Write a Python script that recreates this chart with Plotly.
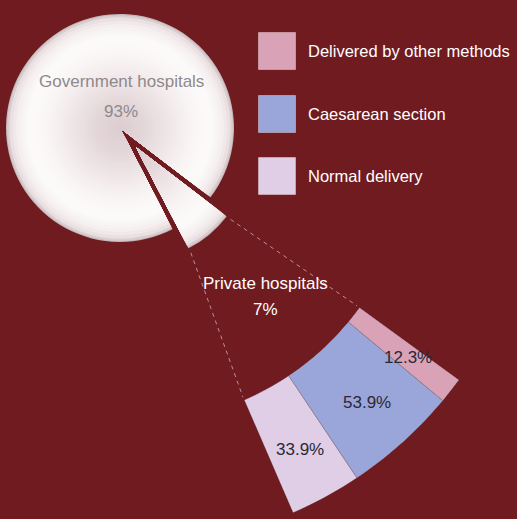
import math
import plotly.graph_objects as go

# ---------------- data ----------------
pie_labels = ["Government hospitals", "Private hospitals"]
pie_values = [93, 7]

private_categories = ["Normal delivery", "Caesarean section", "Delivered by other methods"]
private_values = [33.9, 53.9, 12.3]
private_colors = ["#e0cde6", "#9aa5d9", "#d9a2b6"]

legend_categories = ["Delivered by other methods", "Caesarean section", "Normal delivery"]

# ---------------- layout constants (pixels) ----------------
W, H = 517, 519
BG = "#6f1b1f"
FONT = "Liberation Sans, Arial, sans-serif"

PIE_C = (120.0, 128.0)      # centre of the pie
PIE_R = 114.0               # radius of the pie
PULL = 25.0                 # offset of the detached slice
SLICE_MID = 50.0            # direction of detached slice (deg below horizontal)
BAND_C = (133.0, 143.0)     # centre of the exploded band
BAND_A0, BAND_A1 = 36.0, 66.6
R_IN, R_OUT = 280.0, 403.0  # radii of the exploded band
LABEL_R = 349.0

small_share = pie_values[1] / sum(pie_values)
rotation = SLICE_MID + 90 + small_share * 360 / 2   # clockwise from 12 o'clock
C2 = (PIE_C[0] + PULL * math.cos(math.radians(SLICE_MID)),
      PIE_C[1] + PULL * math.sin(math.radians(SLICE_MID)))


def px_to_paper_domain(cx, cy, r):
    return dict(x=[(cx - r) / W, (cx + r) / W], y=[1 - (cy + r) / H, 1 - (cy - r) / H])


# radial gradient of the pie: colour stops by radius fraction
stops = [(0.0, (220, 204, 207)), (0.22, (228, 215, 218)), (0.45, (240, 232, 234)),
         (0.65, (250, 246, 246)), (0.8, (252, 250, 250)), (0.9, (245, 239, 240)),
         (0.965, (232, 222, 224)), (1.0, (196, 183, 186))]


def grad(t):
    for (t0, c0), (t1, c1) in zip(stops[:-1], stops[1:]):
        if t0 <= t <= t1:
            f = (t - t0) / (t1 - t0) if t1 > t0 else 0
            return "rgb(%d,%d,%d)" % tuple(round(a + (b - a) * f) for a, b in zip(c0, c1))
    return "rgb(%d,%d,%d)" % stops[-1][1]


N_RINGS = 34
ring_fracs = [1.0 - i / N_RINGS for i in range(N_RINGS)]
ring_fracs = [1.0, 0.99] + [f for f in ring_fracs if f < 0.99]

fig = go.Figure()

CLEAR = "rgba(0,0,0,0)"
for k, f in enumerate(ring_fracs):
    nxt = ring_fracs[k + 1] if k + 1 < len(ring_fracs) else 0.0
    col = grad((f + nxt) / 2 if k > 0 else 1.0)
    r = PIE_R * f
    for centre, colors in ((PIE_C, [col, CLEAR]), (C2, [CLEAR, col])):
        fig.add_trace(go.Pie(
            values=pie_values, labels=pie_labels, sort=False, direction="clockwise",
            rotation=rotation, marker=dict(colors=colors, line=dict(width=0)),
            textinfo="none", hoverinfo="skip", showlegend=False,
            domain=px_to_paper_domain(centre[0], centre[1], r)))

# ---------------- exploded band (barpolar) ----------------
span = BAND_A1 - BAND_A0
total = sum(private_values)
# order around the band: other methods at the top-right edge, then caesarean, then normal
band_order = [2, 1, 0]
thetas, widths, cols, vals = [], [], [], []
cur = BAND_A0
for i in band_order:
    w = private_values[i] / total * span
    thetas.append(cur + w / 2)
    widths.append(w)
    cols.append(private_colors[i])
    vals.append(private_values[i])
    cur += w

fig.add_trace(go.Barpolar(
    r=[1] * len(vals), theta=thetas, width=widths,
    marker=dict(color=cols, line=dict(color="#8c7d90", width=0.8)),
    hoverinfo="skip", showlegend=False))

dom_x = [BAND_C[0] / W, (BAND_C[0] + R_OUT * math.cos(math.radians(BAND_A0))) / W]
dom_y = [1 - (BAND_C[1] + R_OUT * math.sin(math.radians(BAND_A1))) / H, 1 - BAND_C[1] / H]

# ---------------- dashed connector lines ----------------
slice_a0 = SLICE_MID - small_share * 360 / 2
slice_a1 = SLICE_MID + small_share * 360 / 2
for sa, ba in ((slice_a0, BAND_A0), (slice_a1, BAND_A1)):
    xs = [C2[0] + (PIE_R + 5) * math.cos(math.radians(sa)),
          BAND_C[0] + (R_IN - 3) * math.cos(math.radians(ba))]
    ys = [C2[1] + (PIE_R + 5) * math.sin(math.radians(sa)),
          BAND_C[1] + (R_IN - 3) * math.sin(math.radians(ba))]
    fig.add_trace(go.Scatter(x=xs, y=ys, mode="lines", hoverinfo="skip", showlegend=False,
                             line=dict(color="#bb9096", width=1, dash="4px,4px")))

# ---------------- legend squares ----------------
leg_x = 277
leg_y = [51, 114, 176]
leg_cols = [private_colors[private_categories.index(c)] for c in legend_categories]
fig.add_trace(go.Scatter(x=[leg_x] * 3, y=leg_y, mode="markers", hoverinfo="skip", showlegend=False,
                         marker=dict(symbol="square", size=37, color=leg_cols,
                                     line=dict(color="rgba(255,255,255,0.35)", width=1))))

ann = []
for c, y in zip(legend_categories, leg_y):
    ann.append(dict(x=306, y=y, text=c, xanchor="left", yanchor="middle", showarrow=False,
                    font=dict(family=FONT, size=16.5, color="white")))

# pie labels
ann.append(dict(x=121, y=81, text=pie_labels[0], showarrow=False,
                font=dict(family=FONT, size=17, color="#8e898a")))
ann.append(dict(x=121, y=111, text=f"{pie_values[0]}%", showarrow=False,
                font=dict(family=FONT, size=17, color="#8e898a")))
ann.append(dict(x=265, y=283, text=pie_labels[1], showarrow=False,
                font=dict(family=FONT, size=17, color="white")))
ann.append(dict(x=265, y=309, text=f"{pie_values[1]}%", showarrow=False,
                font=dict(family=FONT, size=17, color="white")))

# band value labels
for th, v in zip(thetas, vals):
    ann.append(dict(x=BAND_C[0] + LABEL_R * math.cos(math.radians(th)),
                    y=BAND_C[1] + LABEL_R * math.sin(math.radians(th)),
                    text=f"{v}%", showarrow=False,
                    font=dict(family=FONT, size=17, color="#2a2836")))

fig.update_layout(
    width=W, height=H, margin=dict(l=0, r=0, t=0, b=0),
    paper_bgcolor=BG, plot_bgcolor=BG,
    xaxis=dict(range=[0, W], visible=False, fixedrange=True),
    yaxis=dict(range=[H, 0], visible=False, fixedrange=True),
    polar=dict(domain=dict(x=dom_x, y=dom_y), sector=[-BAND_A1, -BAND_A0], hole=R_IN / R_OUT,
               bgcolor="rgba(0,0,0,0)",
               radialaxis=dict(range=[0, 1], visible=False),
               angularaxis=dict(visible=False, direction="clockwise", rotation=0)),
    annotations=ann,
    showlegend=False,
)

fig.write_html("out.html", config={"displayModeBar": False},
               post_script="document.body.style.margin='0px';")
